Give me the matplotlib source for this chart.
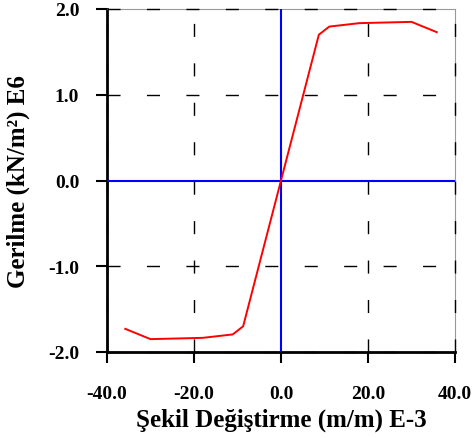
import matplotlib
matplotlib.use("Agg")
import matplotlib.pyplot as plt

# strain (m/m) E-3 and stress (kN/m2) E6
strain = [-35.8, -30.0, -18.0, -11.1, -8.7, 0.0, 8.7, 11.1, 18.0, 30.0, 35.8]
stress = [-1.73, -1.85, -1.835, -1.795, -1.70, 0.0, 1.70, 1.795, 1.835, 1.85, 1.73]

xticks = [-40, -20, 0, 20, 40]
yticks = [-2, -1, 0, 1, 2]

plt.rcParams["font.family"] = ["Liberation Serif", "DejaVu Serif"]
plt.rcParams["font.weight"] = "bold"

fig = plt.figure(figsize=(4.73, 4.39), dpi=100)
ax = fig.add_axes([107 / 473, 1 - 353 / 439, (455 - 107) / 473, (353 - 10) / 439])

ax.set_xlim(-40, 40)
ax.set_ylim(-2, 2)

# dashed grid lines (long gaps, like the original plot)
dash = (0, (9.4, 19.0))
for x in xticks:
    if x != 0:
        ax.axvline(x, color="black", lw=1.0, ls=dash, zorder=2.6, clip_on=False)
for y in yticks:
    if y != 0:
        ax.axhline(y, color="black", lw=1.0, ls=dash, zorder=2.6, clip_on=False)

# blue zero axes
ax.axvline(0, color="blue", lw=1.5, zorder=2.7)
ax.axhline(0, color="blue", lw=1.5, zorder=2.7)

ax.plot(strain, stress, color="red", lw=1.4, zorder=3)

ax.set_xticks(xticks)
ax.set_yticks(yticks)
ax.set_xticklabels(["%.1f" % v for v in xticks], fontsize=14, fontweight="bold")
ax.set_yticklabels(["%.1f" % v for v in yticks], fontsize=14, fontweight="bold")
ax.tick_params(direction="out", length=8, width=1.5)
ax.tick_params(axis="x", pad=16)
ax.tick_params(axis="y", pad=12)

ax.spines["left"].set_linewidth(2)
ax.spines["bottom"].set_linewidth(2)
ax.spines["top"].set_color("#999999")
ax.spines["right"].set_color("#999999")

ax.set_xlabel("Şekil Değiştirme (m/m) E-3", fontsize=18, fontweight="bold", labelpad=4)
ax.set_ylabel("Gerilme (kN/m²) E6", fontsize=18, fontweight="bold", labelpad=13)

fig.savefig("out.png", dpi=100)
